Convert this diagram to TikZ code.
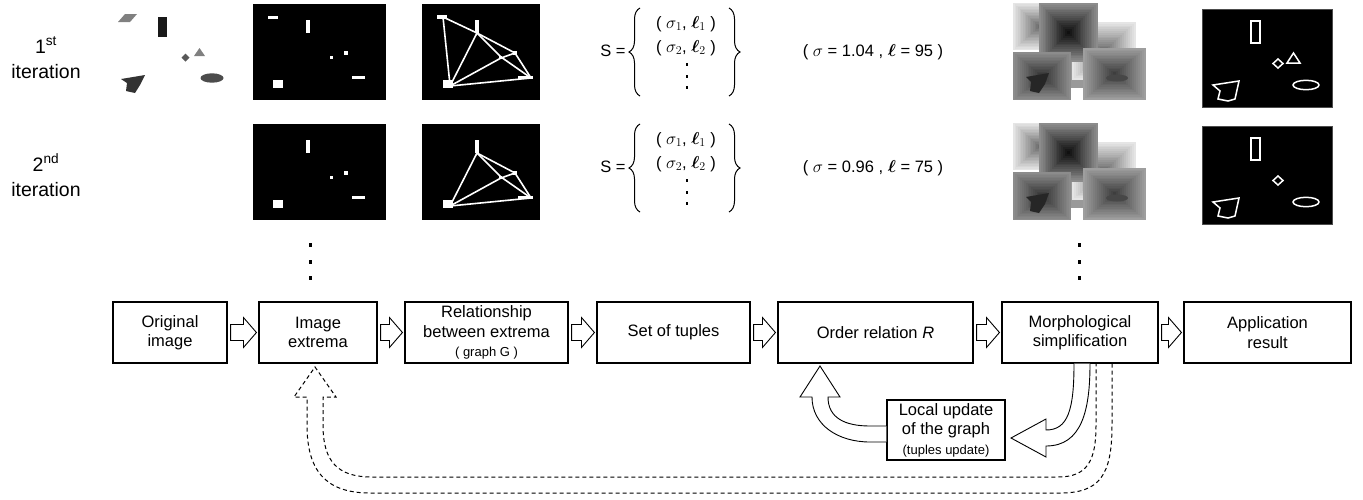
\documentclass[tikz,border=0pt]{standalone}
\usepackage{amsmath}
\usepackage{fontspec}
\setmainfont{Liberation Sans}
\usetikzlibrary{calc,decorations.pathreplacing}
\newcommand\boxfont{\fontsize{16.5}{19.5}\selectfont}
\newcommand\smfont{\fontsize{13}{15}\selectfont}
\newcommand\labfont{\fontsize{19.5}{25}\selectfont}
\newcommand\fatarrow[2]{\draw[fat] ($(#1.east)+(3,-8)$) -- ($(#2.west)+(-15,-8)$) -- ($(#2.west)+(-15,-15)$) -- ($(#2.west)+(-2,0)$) -- ($(#2.west)+(-15,15)$) -- ($(#2.west)+(-15,8)$) -- ($(#1.east)+(3,8)$) -- cycle;}
\newcommand\pyr[6]{%
 \foreach \i in {0,...,15}{%
  \pgfmathsetmacro\pyT{\i/16}%
  \pgfmathsetmacro\pyC{#5+(#6-#5)*\pyT}%
  \fill[black!\pyC] ({#1+(#3-#1)/2*\pyT},{#2+(#4-#2)/2*\pyT}) rectangle ({#3-(#3-#1)/2*\pyT},{#4-(#4-#2)/2*\pyT});
 }}
\newcommand\extmarks{%
  \fill[white] (306,20) rectangle (309.5,33);
  \fill[white] (330,56) rectangle (333,59);
  \fill[white] (344,51) rectangle (348,55);
  \fill[white] (352,76) rectangle (365,79);
  \fill[white] (273,80) rectangle (283,88);}
\newcommand\graphbase{%
  \fill[white] (475,20) rectangle (478.5,33);
  \fill[white] (513,51) rectangle (517,55);
  \fill[white] (518,76) rectangle (533,79);
  \fill[white] (443,80) rectangle (453,88);
  \fill[white] (499,56) rectangle (502,59);
  \draw[wl] (477,33) -- (515,53);
  \draw[wl] (477,33) -- (450,86);
  \draw[wl] (477,33) -- (501,57) -- (531,78);
  \draw[wl] (450,86) -- (501,58) -- (515,53);
  \draw[wl] (450,86) -- (531,78);
  \draw[wl] (515,53) -- (531,78);}
\newcommand\gradimg{%
  \fill[black!40] (1045,35) rectangle (1095,88);
  \pyr{1013}{3}{1066}{50}{10}{60}
  \pyr{1072}{22}{1136}{80}{10}{60}
  \pyr{1039}{3}{1098}{62}{45}{97}
  \pyr{1013}{52}{1071}{100}{45}{82}
  \pyr{1083}{48}{1146}{100}{38}{78}
  \fill[black!85] (1026,77) -- (1049,73) -- (1045,84) -- (1039,93) -- (1030,91) -- (1031,82) -- cycle;
  \fill[black!72] (1117,78) ellipse (11pt and 3.5pt);}
\newcommand\resimg{%
  \fill[black,draw=black!70,line width=0.8pt] (1202,9) rectangle (1332,107);
  \draw[ol] (1251,21) rectangle (1260,43);
  \draw[ol] (1278,59) -- (1283,63.5) -- (1278,68) -- (1273,63.5) -- cycle;
  \draw[ol] (1213,85) -- (1239,81) -- (1235,99) -- (1228,101) -- (1218,99) -- (1220,91) -- cycle;
  \draw[ol] (1306,85) ellipse (13pt and 4.7pt);}
\newcommand\sset[3]{%
  \node[txt] (#1s) at (613,51) {S =};
  \draw[brc] (640,96) -- (640,8);
  \draw[brc] (729,8) -- (729,96);
  \node[txt] (#1a) at (686,24) {( \(\sigma_1\), \(\boldsymbol{\ell}_1\) )};
  \node[txt] (#1b) at (686,48) {( \(\sigma_2\), \(\boldsymbol{\ell}_2\) )};
  \fill (685.5,63) rectangle (688,66);
  \fill (685.5,74.5) rectangle (688,77.5);
  \fill (685.5,86) rectangle (688,89);
  \node[txt] (#1p) at (873,52) {( \(\sigma\) = #2 , \(\boldsymbol{\ell}\) = #3 )};}
\begin{document}
\begin{tikzpicture}[x=1pt,y=-1pt,
  box/.style={draw,line width=1.1pt,fill=white,minimum height=61pt,align=center,inner sep=2pt,font=\boxfont},
  fat/.style={draw,line width=0.9pt,fill=white,line join=miter},
  dfat/.style={draw=black,line width=1pt,dash pattern=on 4pt off 3pt},
  wl/.style={white,line width=1.6pt},
  ol/.style={white,line width=1.5pt},
  brc/.style={decorate,decoration={brace,amplitude=11pt},line width=1pt},
  lab/.style={font=\labfont,anchor=base},
  txt/.style={font=\boxfont}]
\useasboundingbox (0,0) rectangle (1363,499);
% row labels
\node[lab] (it1a) at (46,53) {1\textsuperscript{st}};
\node[lab] (it1b) at (46,78) {iteration};
\node[lab] (it2a) at (46,171) {2\textsuperscript{nd}};
\node[lab] (it2b) at (46,196) {iteration};
% original image
\fill[black!50] (118,22) -- (125,14) -- (137,14) -- (130,22) -- cycle;
\fill[black!90] (158,17) rectangle (167,37);
\fill[black!65] (185.5,53.5) -- (189.5,57.5) -- (185.5,61.5) -- (181.5,57.5) -- cycle;
\fill[black!50] (194,56) -- (205,56) -- (199.5,48) -- cycle;
\fill[black!80] (121,79) -- (145,75) -- (140,85) -- (135,93) -- (126,91) -- (127,83) -- cycle;
\fill[black!70] (212,78) ellipse (11.5pt and 4.7pt);
% image extrema
\fill[black] (253,4) rectangle (386,100);
\fill[white] (268,16) rectangle (278,19);
\extmarks
\begin{scope}[shift={(0,120)}]
\fill[black] (253,4) rectangle (386,100);
\extmarks
\end{scope}
% graphs
\fill[black] (422,4) rectangle (540,100);
\fill[white] (437,15) rectangle (447,19);
\draw[wl] (443,17) -- (450,85);
\draw[wl] (443,17) -- (477,33);
\graphbase
\begin{scope}[shift={(0,120)}]
\fill[black] (422,4) rectangle (540,100);
\graphbase
\end{scope}
% sets
\sset{r1}{1.04}{95}
\begin{scope}[shift={(0,116)}]
\sset{r2}{0.96}{75}
\end{scope}
% gradient images
\gradimg
\begin{scope}[shift={(0,120)}]
\gradimg
\end{scope}
% result images
\resimg
\draw[ol] (1287,63) -- (1300,63) -- (1293.5,53) -- cycle;
\begin{scope}[shift={(0,117)}]
\resimg
\end{scope}
% vertical dots
\foreach \yy in {243,259.5,276}{
  \fill (308.5,\yy) rectangle (311.5,\yy+4);
  \fill (1077.5,\yy) rectangle (1080.5,\yy+4);}
% boxes
\node[box,minimum width=114pt] (b1) at (170,332.5) {Original\\image};
\node[box,minimum width=118pt] (b2) at (318,332.5) {Image\\extrema};
\node[box,minimum width=163pt] (b3) at (486.5,332.5) {Relationship\\between extrema\\{\smfont ( graph G )}};
\node[box,minimum width=153pt] (b4) at (673.5,332.5) {Set of tuples};
\node[box,minimum width=195pt] (b5) at (875.5,332.5) {Order relation \textit{R}};
\node[box,minimum width=156pt] (b6) at (1080,332.5) {Morphological\\simplification};
\node[box,minimum width=167pt] (b7) at (1267.5,332.5) {Application\\result};
\node[box,minimum width=118pt,minimum height=60pt] (loc) at (946,430) {Local update\\of the graph\\{\smfont (tuples update)}};
\fatarrow{b1}{b2}
\fatarrow{b2}{b3}
\fatarrow{b3}{b4}
\fatarrow{b4}{b5}
\fatarrow{b5}{b6}
\fatarrow{b6}{b7}
% curved arrows
\draw[fat] ($(b6.south)+(-6,0)$) .. controls (1074,410) and (1068,430) .. (1046,430) -- (1046,419) -- (1011,438) -- (1046,457) -- (1046,446) .. controls (1082,446) and (1090,410) .. ($(b6.south)+(10,0)$);
\draw[fat] ($(loc.west)+(0,12)$) -- (870,442) .. controls (838,442) and (812,425) .. (812,397) -- (800,397) -- (820,366) -- (840,397) -- (828,397) .. controls (828,418) and (845,426) .. (870,426) -- ($(loc.west)+(0,-4)$);
\draw[dfat] ($(b6.south)+(32,0)$) -- (1112,425) .. controls (1112,475) and (1100,493) .. (1060,493) -- (370,493) .. controls (325,493) and (307,470) .. (307,425) -- (307,397) -- (294,397) -- (315,367) -- (336,397) -- (323,397) -- (323,425) .. controls (323,462) and (338,477) .. (372,477) -- (1058,477) .. controls (1088,477) and (1096,460) .. (1096,425) -- ($(b6.south)+(16,0)$);
\end{tikzpicture}
\end{document}
